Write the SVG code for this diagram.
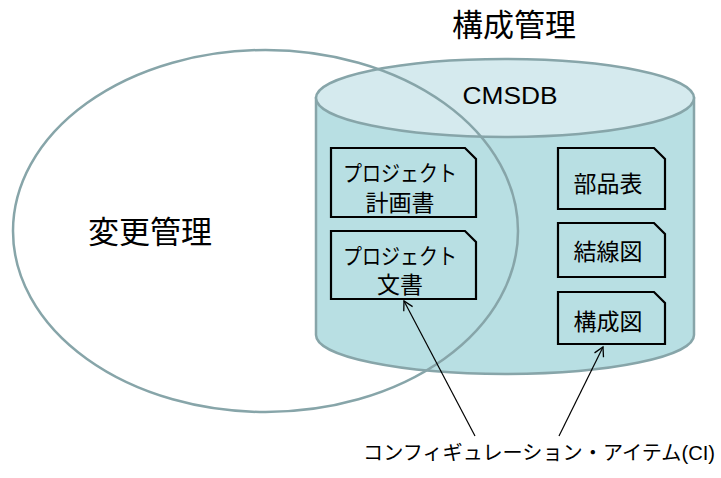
<svg xmlns="http://www.w3.org/2000/svg" width="721" height="478" viewBox="0 0 721 478">
<defs>
<style>
.t{font-family:"Liberation Sans","Noto Sans CJK JP",sans-serif;fill:#000;text-anchor:middle}
.doc{fill:#b8dfe3;stroke:#000;stroke-width:2.2}
.cyl{stroke:#87a5a9;stroke-width:2.5}
.arr{stroke:#000;stroke-width:1.2;fill:none;marker-end:url(#ah)}
</style>
<marker id="ah" markerWidth="12" markerHeight="12" refX="10" refY="6" orient="auto" markerUnits="userSpaceOnUse">
<path d="M1,1 L10,6 L1,11" fill="none" stroke="#000" stroke-width="1.3"/>
</marker>
</defs>
<rect width="721" height="478" fill="#fff"/>
<g id="cmsdb">
<path class="cyl" fill="#b8dfe3" d="M316,98 L316,335 A189,39 0 0 0 694,335 L694,98 Z"/>
<ellipse class="cyl" fill="#d5eaee" cx="505" cy="98" rx="189" ry="39"/>
<text class="t" x="510" y="104" font-size="23" textLength="95" lengthAdjust="spacingAndGlyphs">CMSDB</text>
</g>
<g id="change-mgmt">
<ellipse cx="265.5" cy="231" rx="252.5" ry="181" fill="none" stroke="#87a5a9" stroke-width="2.5"/>
<text class="t" x="150" y="243" font-size="31">変更管理</text>
</g>
<g id="config-mgmt-label">
<text class="t" x="514" y="36" font-size="31">構成管理</text>
</g>
<g id="doc-plan">
<path class="doc" d="M331,148 L465,148 L476,159 L476,217 L331,217 Z"/>
<text class="t" x="400" y="181" font-size="22" textLength="114" lengthAdjust="spacingAndGlyphs">プロジェクト</text>
<text class="t" x="400" y="211" font-size="23">計画書</text>
</g>
<g id="doc-doc">
<path class="doc" d="M331,231 L465,231 L476,242 L476,299 L331,299 Z"/>
<text class="t" x="400" y="264" font-size="22" textLength="114" lengthAdjust="spacingAndGlyphs">プロジェクト</text>
<text class="t" x="400" y="293" font-size="23">文書</text>
</g>
<g id="doc-parts">
<path class="doc" d="M558,148 L654,148 L665,159 L665,209 L558,209 Z"/>
<text class="t" x="608" y="192" font-size="23">部品表</text>
</g>
<g id="doc-wiring">
<path class="doc" d="M558,223 L654,223 L665,234 L665,277 L558,277 Z"/>
<text class="t" x="608" y="260" font-size="23">結線図</text>
</g>
<g id="doc-config">
<path class="doc" d="M558,292 L654,292 L665,303 L665,344 L558,344 Z"/>
<text class="t" x="608" y="330" font-size="23">構成図</text>
</g>
<g id="connectors">
<line class="arr" x1="475" y1="436" x2="404" y2="301"/>
<line class="arr" x1="559" y1="436" x2="603" y2="347"/>
</g>
<g id="ci-label">
<text class="t" x="539" y="460" font-size="20" textLength="352" lengthAdjust="spacingAndGlyphs">コンフィギュレーション・アイテム(CI)</text>
</g>
</svg>
